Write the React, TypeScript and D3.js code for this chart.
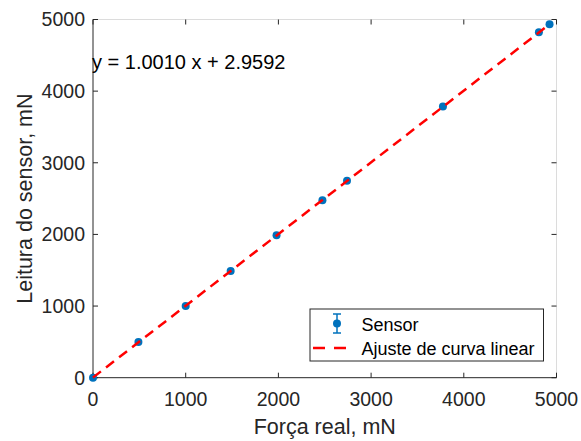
import React from "react";
import * as d3 from "d3";

const forceReal = [0, 490, 1000, 1485, 1980, 2475, 2740, 3775, 4810, 4925];
const sensorReading = [0, 500, 1000, 1488, 1990, 2478, 2748, 3785, 4822, 4935];
const errorBars = [15, 15, 15, 15, 15, 15, 15, 15, 15, 15];
const xTicks = [0, 1000, 2000, 3000, 4000, 5000];
const yTicks = [0, 1000, 2000, 3000, 4000, 5000];
const slope = 1.001;
const intercept = 2.9592;
const fitLabel = "y = 1.0010 x + 2.9592";
const xLabel = "Força real, mN";
const yLabel = "Leitura do sensor, mN";
const legendItems = ["Sensor", "Ajuste de curva linear"];

export default function App() {
  const W = 581, H = 441;
  const left = 93, right = 556.5, top = 19.5, bottom = 377.7;
  const x = d3.scaleLinear().domain([0, 5000]).range([left, right]);
  const y = d3.scaleLinear().domain([0, 5000]).range([bottom, top]);
  const font = "'Liberation Sans', Arial, sans-serif";
  const blue = "#0072BD";
  const xMin = d3.min(forceReal)!;
  const xMax = d3.max(forceReal)!;
  const line = d3.line<number>().x((d) => x(d)).y((d) => y(slope * d + intercept));
  const tickLen = 5;
  const tickFs = 19.5;

  return (
    <svg width={W} height={H} style={{ position: "absolute", left: 0, top: 0, background: "#fff" }} fontFamily={font}>
      <rect x={0} y={0} width={W} height={H} fill="#fff" />
      {/* box top/right */}
      <line x1={left} x2={right} y1={top} y2={top} stroke="#dcdcdc" strokeWidth={1} />
      <line x1={right} x2={right} y1={top} y2={bottom} stroke="#dcdcdc" strokeWidth={1} />
      {/* ticks */}
      {xTicks.map((t) => (
        <g key={"xt" + t}>
          <line x1={x(t)} x2={x(t)} y1={bottom} y2={bottom - tickLen} stroke="#262626" />
          <line x1={x(t)} x2={x(t)} y1={top} y2={top + tickLen} stroke="#262626" />
          <text x={x(t)} y={406} textAnchor="middle" fontSize={tickFs} fill="#262626">{t}</text>
        </g>
      ))}
      {yTicks.map((t) => (
        <g key={"yt" + t}>
          <line x1={left} x2={left + tickLen} y1={y(t)} y2={y(t)} stroke="#262626" />
          <line x1={right} x2={right - tickLen} y1={y(t)} y2={y(t)} stroke="#262626" />
          <text x={85} y={y(t)} dy="0.35em" textAnchor="end" fontSize={tickFs} fill="#262626">{t}</text>
        </g>
      ))}
      {/* axes left/bottom */}
      <line x1={left} x2={right} y1={bottom} y2={bottom} stroke="#262626" strokeWidth={1} />
      <line x1={left} x2={left} y1={top} y2={bottom} stroke="#262626" strokeWidth={1} />

      {/* error bars and markers */}
      {forceReal.map((fx, i) => {
        const cx = x(fx);
        const e = errorBars[i];
        return (
          <g key={"p" + i}>
            <line x1={cx} x2={cx} y1={y(sensorReading[i] - e)} y2={y(sensorReading[i] + e)} stroke={blue} strokeWidth={1.5} />
            <circle cx={cx} cy={y(sensorReading[i])} r={4} fill={blue} />
          </g>
        );
      })}

      {/* fit line */}
      <path d={line([xMin, xMax]) || ""} fill="none" stroke="#ff0000" strokeWidth={2.5} strokeDasharray="10,6.5" />

      {/* equation */}
      <text x={92} y={69} fontSize={20} fill="#000">{fitLabel}</text>

      {/* legend */}
      <rect x={310} y={309} width={233.5} height={52} fill="#fff" stroke="#262626" strokeWidth={1} />
      <g>
        <line x1={337} x2={337} y1={314} y2={333} stroke={blue} strokeWidth={1.5} />
        <line x1={333} x2={341} y1={314} y2={314} stroke={blue} strokeWidth={1.5} />
        <line x1={333} x2={341} y1={333} y2={333} stroke={blue} strokeWidth={1.5} />
        <circle cx={337} cy={323.5} r={4} fill={blue} />
        <text x={361.5} y={330.5} fontSize={18} fill="#000">{legendItems[0]}</text>
      </g>
      <g>
        <line x1={313} x2={347} y1={348} y2={348} stroke="#ff0000" strokeWidth={2.5} strokeDasharray="12,9" />
        <text x={361.5} y={354.5} fontSize={18} fill="#000">{legendItems[1]}</text>
      </g>

      {/* axis labels */}
      <text x={(left + right) / 2} y={434} textAnchor="middle" fontSize={21.5} fill="#262626">{xLabel}</text>
      <text transform={`translate(32, ${(top + bottom) / 2}) rotate(-90)`} textAnchor="middle" fontSize={21.5} fill="#262626">{yLabel}</text>
    </svg>
  );
}
